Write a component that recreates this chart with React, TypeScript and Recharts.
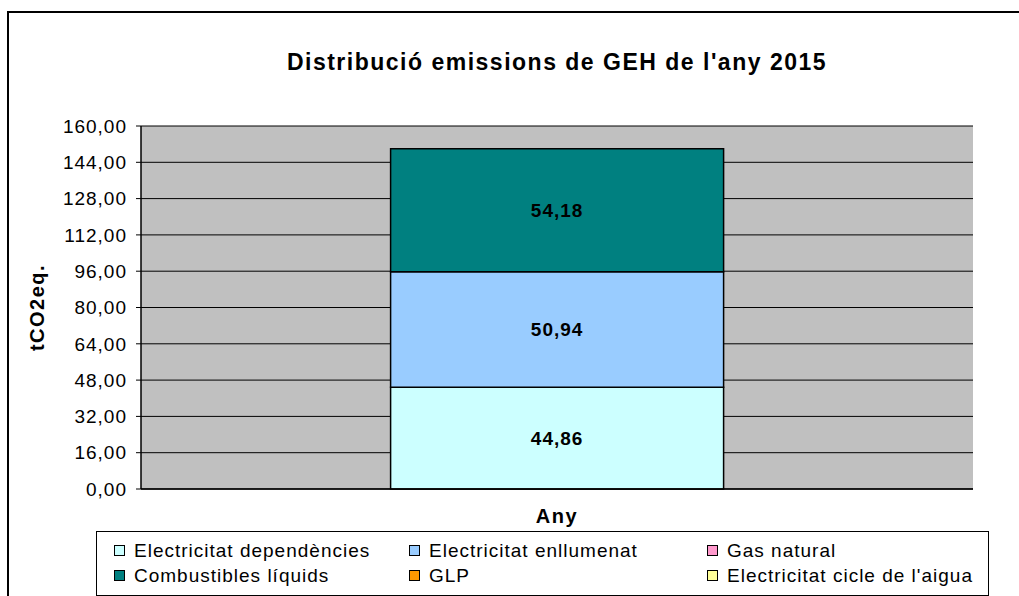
import React from "react";
import {
  BarChart, Bar, XAxis, YAxis, CartesianGrid, LabelList, Label,
} from "recharts";

const FONT = "'Liberation Sans', Arial, sans-serif";

// one category (the year), stacked series in Excel order
const categories = ["2015"];
const seriesNames = [
  "Electricitat dependències",
  "Electricitat enllumenat",
  "Gas natural",
  "Combustibles líquids",
  "GLP",
  "Electricitat cicle de l'aigua",
];
const seriesColors = ["#CCFFFF", "#99CCFF", "#FF99CC", "#008080", "#FF9900", "#FFFF99"];
const seriesValues = [
  [44.86],
  [50.94],
  [0],
  [54.18],
  [0],
  [0],
];
const yTicks = [0, 16, 32, 48, 64, 80, 96, 112, 128, 144, 160];

const data = categories.map((name, i) => {
  const row: Record<string, string | number> = { name };
  seriesNames.forEach((s, k) => { row["s" + k] = seriesValues[k][i]; });
  return row;
});

const fmt = (v: number) => v.toFixed(2).replace(".", ",");

const W = 1019;
const H = 596;

function YLabel(props: any) {
  const vb = props.viewBox || {};
  const cy = vb.y + vb.height / 2;
  const cx = 37;
  return (
    <text x={cx} y={cy} transform={`rotate(-90 ${cx} ${cy})`} textAnchor="middle"
      dominantBaseline="central" fontFamily={FONT} fontWeight="bold" fontSize={20}
      letterSpacing={1.5} fill="#000">tCO2eq.</text>
  );
}

function XLabel(props: any) {
  const vb = props.viewBox || {};
  return (
    <text x={vb.x + vb.width / 2} y={vb.y + 27} textAnchor="middle" dominantBaseline="central"
      fontFamily={FONT} fontWeight="bold" fontSize={20} letterSpacing={1.5} fill="#000">Any</text>
  );
}

function ChartLegend() {
  const cols = [17, 312, 610];
  return (
    <div style={{
      position: "absolute", left: 96, top: 531, width: 891, height: 63,
      border: "1px solid #000", background: "#fff", fontFamily: FONT, fontSize: 19,
      letterSpacing: 1,
    }}>
      {seriesNames.map((s, k) => (
        <div key={s} style={{
          position: "absolute", left: cols[k % 3], top: k < 3 ? 6 : 31, height: 25,
          display: "flex", alignItems: "center", whiteSpace: "nowrap",
        }}>
          <span style={{
            display: "inline-block", width: 9, height: 9, border: "1px solid #000",
            background: seriesColors[k], marginRight: 9,
          }} />
          {s}
        </div>
      ))}
    </div>
  );
}

export default function App() {
  return (
    <div style={{ position: "absolute", left: 0, top: 0, width: W, height: H, overflow: "hidden", background: "#fff" }}>
      <div style={{
        position: "absolute", left: 7, top: 11, width: 1200, height: 800,
        border: "2px solid #000",
      }} />
      <div style={{
        position: "absolute", left: 141, width: 832, top: 46, textAlign: "center",
        fontFamily: FONT, fontWeight: "bold", fontSize: 23, letterSpacing: 1.5, lineHeight: "32px",
      }}>
        Distribució emissions de GEH de l'any 2015
      </div>
      <div style={{ position: "absolute", left: 0, top: 0 }}>
        <BarChart width={W} height={H} data={data} barCategoryGap="30%"
          margin={{ top: 126, right: 46, bottom: 0, left: 0 }}>
          <CartesianGrid vertical={false} stroke="#000" fill="#C0C0C0" />
          <XAxis dataKey="name" height={107} tick={false} tickLine={false}
            axisLine={{ stroke: "#000", strokeWidth: 1.5 }}>
            <Label content={<XLabel />} />
          </XAxis>
          <XAxis xAxisId="top" dataKey="name" orientation="top" height={0} tick={false}
            tickLine={false} axisLine={{ stroke: "#808080", strokeWidth: 2 }} />
          <YAxis domain={[0, 160]} ticks={yTicks} width={141} tickSize={5} tickMargin={9}
            tickFormatter={fmt} interval={0}
            axisLine={{ stroke: "#000", strokeWidth: 1.5 }} tickLine={{ stroke: "#000" }}
            tick={{ fill: "#000", fontSize: 19, fontFamily: FONT, letterSpacing: 1 }}>
            <Label content={<YLabel />} />
          </YAxis>
          <YAxis yAxisId="right" orientation="right" width={0} tick={false} tickLine={false}
            axisLine={{ stroke: "#808080", strokeWidth: 2 }} />
          {seriesNames.map((s, k) => (
            <Bar key={s} dataKey={"s" + k} name={s} stackId="a" fill={seriesColors[k]}
              stroke="#000" strokeWidth={1.5} isAnimationActive={false}>
              {seriesValues[k].some((v) => v > 0) && (
                <LabelList dataKey={"s" + k} position="center" formatter={(v: any) => fmt(Number(v))}
                  fill="#000" fontSize={19} fontWeight="bold" fontFamily={FONT} letterSpacing={1} />
              )}
            </Bar>
          ))}
        </BarChart>
      </div>
      <ChartLegend />
    </div>
  );
}
